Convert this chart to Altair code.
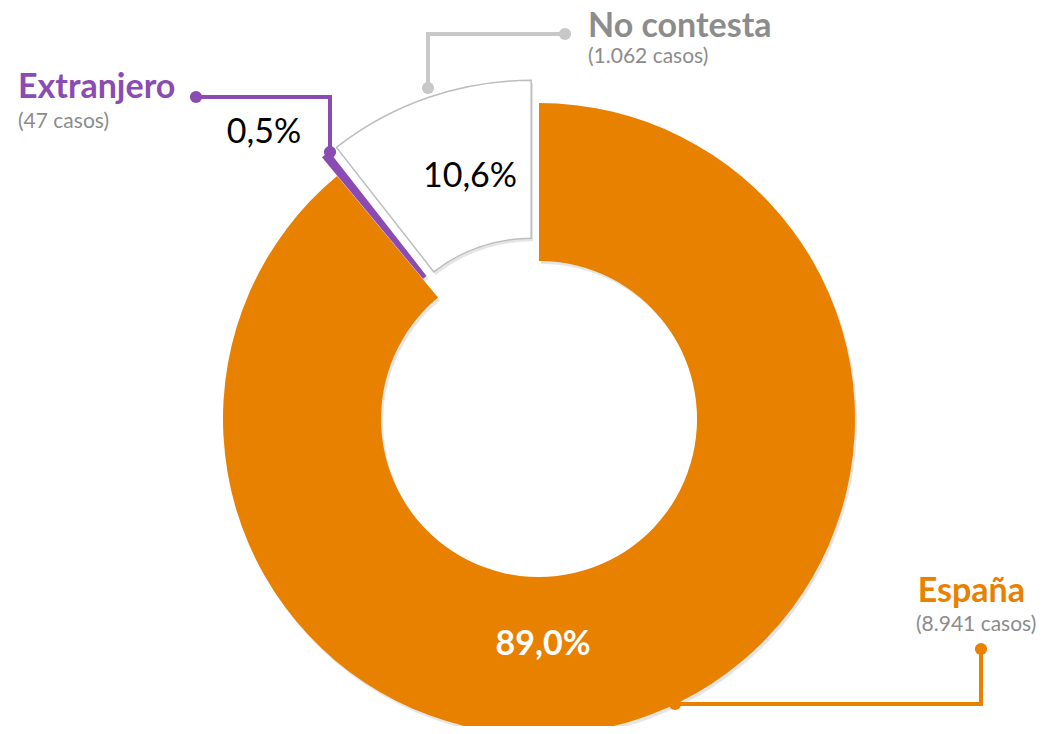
import altair as alt
import pandas as pd

# ---- data ----
categories = ["España", "Extranjero", "No contesta"]
counts = [8941, 47, 1062]
pct_labels = ["89,0%", "0,5%", "10,6%"]
case_labels = ["(8.941 casos)", "(47 casos)", "(1.062 casos)"]

# ---- style / layout ----
ORANGE, PURPLE, GRAY_LINE, GRAY_TXT = "#E88100", "#8A4CB3", "#C8C8C8", "#8C8C8C"
CX, CY = 539, 419
R_OUT, R_IN = 316, 158
EXPLODE = 24
W, H = 1033, 718
FONT = "Lato"

xs = alt.Scale(domain=[8, 8 + W], range=[0, W], nice=False, zero=False)
ys = alt.Scale(domain=[8, 8 + H], range=[0, H], nice=False, zero=False)
theta_scale = alt.Scale(domain=[0, 1], range=[0, 6.283185307179586])

slices = pd.DataFrame({"cat": categories, "n": counts, "idx": list(range(len(categories)))})

base = (
    alt.Chart(slices)
    .transform_joinaggregate(total="sum(n)")
    .transform_window(cum="sum(n)", sort=[alt.SortField("idx")], frame=[None, 0])
    .transform_calculate(
        t0="(datum.cum - datum.n) / datum.total",
        t1="datum.cum / datum.total",
    )
    .transform_calculate(
        mid="(datum.t0 + datum.t1) / 2",
        ex=f"datum.cat == 'España' ? 0 : {EXPLODE}",
    )
    .transform_calculate(
        cx=f"{CX} + datum.ex * sin(2 * PI * datum.mid)",
        cy=f"{CY} - datum.ex * cos(2 * PI * datum.mid)",
    )
)

arc_encoding = dict(
    theta=alt.Theta("t0:Q", scale=theta_scale),
    theta2="t1:Q",
    x=alt.X("cx:Q", scale=xs, axis=None),
    y=alt.Y("cy:Q", scale=ys, axis=None),
)

shadow = base.mark_arc(
    radius=R_OUT, radius2=R_IN, fill="#000000", opacity=0.10, xOffset=2, yOffset=3
).encode(**arc_encoding)

arc_espana = base.transform_filter("datum.cat == 'España'").mark_arc(
    radius=R_OUT, radius2=R_IN, fill=ORANGE
).encode(**arc_encoding)
arc_extr = base.transform_filter("datum.cat == 'Extranjero'").mark_arc(
    radius=R_OUT, radius2=R_IN, fill=PURPLE
).encode(**arc_encoding)
arc_nc = base.transform_filter("datum.cat == 'No contesta'").mark_arc(
    radius=R_OUT, radius2=R_IN, fill="#FFFFFF", stroke="#BDBDBD", strokeWidth=1.5
).encode(**arc_encoding)

# ---- leader lines (annotation layout) ----
leaders = pd.DataFrame({
    "cat": ["Extranjero"] * 3 + ["No contesta"] * 3 + ["España"] * 3,
    "o": [0, 1, 2] * 3,
    "x": [196, 330, 330, 428, 428, 565, 675, 981, 981],
    "y": [97, 97, 152, 88, 34, 34, 704, 704, 649],
})
lead_colors = alt.Scale(domain=categories, range=[ORANGE, PURPLE, GRAY_LINE])
lines = alt.Chart(leaders).mark_line(strokeWidth=4, strokeJoin="miter").encode(
    x=alt.X("x:Q", scale=xs, axis=None),
    y=alt.Y("y:Q", scale=ys, axis=None),
    color=alt.Color("cat:N", scale=lead_colors, legend=None),
    detail="cat:N",
    order="o:Q",
)
dots_df = leaders[leaders["o"].isin([0, 2])]
dots = alt.Chart(dots_df).mark_circle(size=150, opacity=1).encode(
    x=alt.X("x:Q", scale=xs, axis=None),
    y=alt.Y("y:Q", scale=ys, axis=None),
    color=alt.Color("cat:N", scale=lead_colors, legend=None),
)

# ---- texts ----
def text_layer(df, color, **kw):
    return alt.Chart(df).mark_text(font=FONT, baseline="middle", color=color, **kw).encode(
        x=alt.X("x:Q", scale=xs, axis=None),
        y=alt.Y("y:Q", scale=ys, axis=None),
        text="t:N",
    )

name_pos = {"España": (1025, 592), "Extranjero": (18, 88), "No contesta": (588, 27)}
name_col = {"España": ORANGE, "Extranjero": PURPLE, "No contesta": GRAY_TXT}
name_layers = []
for c in categories:
    df = pd.DataFrame({"t": [c], "x": [name_pos[c][0]], "y": [name_pos[c][1]]})
    name_layers.append(text_layer(df, name_col[c], fontWeight="bold", fontSize=34,
                                  align="right" if c == "España" else "left"))

cases_df = pd.DataFrame({"t": case_labels, "x": [916, 18, 588], "y": [625, 122, 57]})
cases = text_layer(cases_df, GRAY_TXT, fontSize=21, align="left")

pct_df = pd.DataFrame({"t": pct_labels, "x": [543, 264, 470], "y": [645, 133, 177], "c": categories})
pct_dark = text_layer(pct_df[pct_df["c"] != "España"], "#000000", fontSize=34, align="center")
pct_white = text_layer(pct_df[pct_df["c"] == "España"], "#FFFFFF", fontSize=34, fontWeight="bold", align="center")

chart = alt.layer(
    shadow, lines, arc_espana, arc_extr, arc_nc, dots, *name_layers, cases, pct_dark, pct_white
).properties(
    width=W, height=H, padding=0, autosize="none"
).configure_view(stroke=None)

chart.save("out.html", embed_options={"renderer": "svg", "actions": False})
